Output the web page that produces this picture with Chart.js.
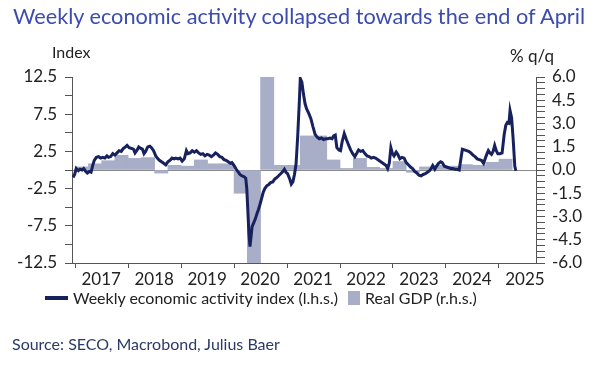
<!DOCTYPE html>
<html lang="en">
<head>
    <meta charset="UTF-8">
    <title>Weekly economic activity</title>
    <script src="https://cdn.jsdelivr.net/npm/chart.js"></script>
    <style>
        body {
            margin: 0;
            padding: 0;
            background: white;
            font-family: Lato, sans-serif;
        }
        .wrap {
            position: relative;
            width: 604px;
            height: 372px;
            overflow: hidden;
        }
        canvas {
            position: absolute;
            left: 0;
            top: 0;
        }
        .title {
            position: absolute;
            left: 13px;
            top: 3px;
            font-size: 21.7px;
            color: #3b4bb0;
            white-space: nowrap;
        }
        .unit {
            position: absolute;
            font-size: 16px;
            color: #222;
        }
        .legend {
            position: absolute;
            top: 288px;
            left: 45px;
            font-size: 16px;
            color: #222;
            display: flex;
            align-items: center;
            white-space: nowrap;
        }
        .legend .line {
            width: 23px;
            height: 4px;
            background: #17215e;
            margin-right: 5px;
        }
        .legend .box {
            width: 12px;
            height: 14px;
            background: #a8aec8;
            margin: 0 5px 0 10px;
        }
        .source {
            position: absolute;
            left: 12px;
            top: 334px;
            font-size: 16px;
            color: #2b3a66;
        }
    </style>
</head>
<body>
<div class="wrap">
    <canvas id="chart" width="604" height="372"></canvas>
    <div class="title">Weekly economic activity collapsed towards the end of April</div>
    <div class="unit" style="left: 52px; top: 42px;">Index</div>
    <div class="unit" style="left: 510px; top: 45px; font-size: 17px;">% q/q</div>
    <div class="legend">
        <span class="line"></span>Weekly economic activity index (l.h.s.)
        <span class="box"></span>Real GDP (r.h.s.)
    </div>
    <div class="source">Source: SECO, Macrobond, Julius Baer</div>
</div>

<script>
    // x axis years (ticks at the start of each year)
    const years = [2017, 2018, 2019, 2020, 2021, 2022, 2023, 2024, 2025];

    // weekly economic activity index (l.h.s.), dates as decimal years
    const activityDates = [
        2016.96, 2016.99, 2017.02, 2017.06, 2017.09, 2017.13, 2017.16, 2017.20, 2017.23, 2017.27,
        2017.30, 2017.33, 2017.36, 2017.40, 2017.44, 2017.48, 2017.52, 2017.56, 2017.60, 2017.63,
        2017.67, 2017.71, 2017.75, 2017.79, 2017.83, 2017.87, 2017.91, 2017.95, 2017.98, 2018.02,
        2018.06, 2018.10, 2018.13, 2018.17, 2018.20, 2018.24, 2018.27, 2018.30, 2018.33, 2018.37,
        2018.41, 2018.44, 2018.48, 2018.52, 2018.55, 2018.59, 2018.63, 2018.67, 2018.71, 2018.75,
        2018.79, 2018.83, 2018.87, 2018.90, 2018.94, 2018.98, 2019.02, 2019.06, 2019.10, 2019.13,
        2019.17, 2019.21, 2019.25, 2019.29, 2019.33, 2019.37, 2019.41, 2019.45, 2019.49, 2019.53,
        2019.57, 2019.61, 2019.65, 2019.69, 2019.73, 2019.77, 2019.81, 2019.85, 2019.89, 2019.93,
        2019.96, 2020.00, 2020.04, 2020.08, 2020.11, 2020.15, 2020.19, 2020.22, 2020.24, 2020.26,
        2020.28, 2020.30, 2020.32, 2020.34, 2020.37, 2020.40, 2020.43, 2020.46, 2020.49, 2020.52,
        2020.55, 2020.58, 2020.62, 2020.65, 2020.69, 2020.73, 2020.77, 2020.81, 2020.85, 2020.88,
        2020.92, 2020.95, 2020.98, 2021.01, 2021.05, 2021.08, 2021.11, 2021.14, 2021.17, 2021.20,
        2021.23, 2021.25, 2021.28, 2021.31, 2021.34, 2021.37, 2021.41, 2021.45, 2021.49, 2021.53,
        2021.57, 2021.61, 2021.65, 2021.69, 2021.73, 2021.77, 2021.81, 2021.85, 2021.88, 2021.91,
        2021.94, 2021.98, 2022.01, 2022.04, 2022.08, 2022.12, 2022.16, 2022.20, 2022.24, 2022.28,
        2022.32, 2022.35, 2022.39, 2022.43, 2022.47, 2022.51, 2022.55, 2022.59, 2022.63, 2022.67,
        2022.71, 2022.75, 2022.79, 2022.83, 2022.87, 2022.90, 2022.93, 2022.96, 2022.99, 2023.02,
        2023.06, 2023.09, 2023.13, 2023.17, 2023.21, 2023.25, 2023.29, 2023.33, 2023.37, 2023.41,
        2023.45, 2023.49, 2023.53, 2023.57, 2023.61, 2023.65, 2023.69, 2023.72, 2023.75, 2023.79,
        2023.83, 2023.86, 2023.90, 2023.93, 2023.97, 2024.01, 2024.05, 2024.09, 2024.13, 2024.17,
        2024.21, 2024.25, 2024.28, 2024.31, 2024.35, 2024.39, 2024.43, 2024.47, 2024.51, 2024.55,
        2024.59, 2024.63, 2024.67, 2024.71, 2024.74, 2024.77, 2024.80, 2024.83, 2024.86, 2024.89,
        2024.92, 2024.95, 2024.98, 2025.02, 2025.06, 2025.10, 2025.13, 2025.16, 2025.19, 2025.21,
        2025.24, 2025.27, 2025.30, 2025.32
    ];
    const activityValues = [
        -1.0, -0.6, 0.2, -0.1, 0.1, 0.0, 0.2, -0.2, -0.4, -0.2,
        -0.3, 0.6, 1.3, 1.7, 1.8, 1.6, 1.7, 1.6, 1.9, 1.7,
        1.8, 2.2, 2.0, 2.3, 2.6, 2.5, 2.9, 3.1, 3.3, 3.0,
        2.9, 2.8, 2.3, 2.7, 3.1, 2.9, 2.8, 2.2, 2.5, 3.1,
        3.2, 3.0, 2.6, 1.9, 1.6, 1.3, 1.1, 0.9, 0.7, 1.1,
        1.3, 1.6, 1.5, 1.6, 1.5, 1.6, 1.2, 1.5, 2.6, 2.2,
        2.3, 2.6, 2.4, 2.6, 2.3, 2.1, 2.2, 1.9, 2.1, 2.0,
        1.8, 2.0, 2.3, 2.1, 1.8, 1.7, 1.4, 1.3, 1.1, 0.9,
        1.0, 0.6, 0.1, -0.3, -0.6, -0.8, -0.9, -1.1, -2.5, -5.5,
        -8.5, -10.3, -9.0, -7.6, -7.1, -6.6, -5.9, -5.3, -4.6, -3.8,
        -3.0, -2.5, -2.1, -2.0, -1.7, -1.6, -1.2, -1.0, -0.7, -0.5,
        -0.2, 0.1, -0.3, -0.5, -1.2, -1.9, -1.6, -0.6, 0.8, 4.4,
        8.9, 12.3, 11.8, 10.2, 8.9, 8.2, 7.6, 6.9, 5.8, 4.8,
        4.4, 4.2, 4.3, 4.1, 4.2, 4.2, 4.3, 4.2, 4.6, 4.7,
        3.0, 2.7, 2.6, 3.8, 4.9, 4.1, 3.4, 2.7, 2.2, 1.8,
        2.3, 2.7, 2.5, 2.6, 2.2, 1.9, 1.8, 1.6, 1.7, 1.6,
        1.4, 1.2, 1.0, 0.8, 0.6, 0.2, 0.9, 3.0, 2.2, 1.9,
        2.4, 2.1, 1.5, 1.7, 1.6, 1.0, 0.7, 0.4, 0.2, -0.2,
        -0.4, -0.7, -0.8, -0.6, -0.5, -0.3, -0.1, 0.2, 0.6, 0.1,
        0.6, 0.9, 1.1, 1.0, 0.5, 0.4, 0.3, 0.2, 0.2, 0.1,
        0.1, 0.0, 1.4, 2.8, 2.7, 2.6, 2.5, 2.3, 2.0, 1.8,
        1.5, 1.4, 1.3, 0.9, 1.5, 2.1, 2.6, 2.3, 2.1, 2.5,
        3.3, 2.6, 2.2, 2.2, 2.3, 4.8, 6.0, 6.4, 6.3, 8.0,
        7.0, 4.0, 0.5, -0.1
    ];

    // real GDP, % q/q (r.h.s.)
    const gdpQuarters = [
        '2017Q1', '2017Q2', '2017Q3', '2017Q4',
        '2018Q1', '2018Q2', '2018Q3', '2018Q4',
        '2019Q1', '2019Q2', '2019Q3', '2019Q4',
        '2020Q1', '2020Q2', '2020Q3', '2020Q4',
        '2021Q1', '2021Q2', '2021Q3', '2021Q4',
        '2022Q1', '2022Q2', '2022Q3', '2022Q4',
        '2023Q1', '2023Q2', '2023Q3', '2023Q4',
        '2024Q1', '2024Q2', '2024Q3', '2024Q4',
        '2025Q1'
    ];
    const gdpValues = [
        0.2, 0.4, 0.6, 0.95,
        0.75, 0.8, -0.2, 0.3,
        0.25, 0.65, 0.4, 0.4,
        -1.5, -7.0, 7.2, 0.3,
        0.3, 2.2, 2.2, 0.65,
        0.1, 0.75, 0.17, 0.1,
        0.55, -0.15, 0.2, 0.3,
        0.25, 0.35, 0.3, 0.5,
        0.7
    ];

    const leftLabels = [12.5, 7.5, 2.5, -2.5, -7.5, -12.5];
    const rightLabels = [6.0, 4.5, 3.0, 1.5, 0.0, -1.5, -3.0, -4.5, -6.0];

    function quarterMid(q) {
        let y = parseInt(q.slice(0, 4));
        let n = parseInt(q.slice(5));
        return y + (n - 0.5) / 4;
    }

    const lineData = activityDates.map((d, i) => ({ x: d, y: activityValues[i] }));
    const gdpData = gdpQuarters.map((q, i) => ({ x: quarterMid(q), y: gdpValues[i] }));

    const axisColor = '#555';
    const tickFont = { family: 'Lato', size: 17 };

    new Chart(document.getElementById('chart'), {
        data: {
            datasets: [
                {
                    type: 'line',
                    label: 'Weekly economic activity index (l.h.s.)',
                    data: lineData,
                    yAxisID: 'y',
                    borderColor: '#17215e',
                    borderWidth: 3,
                    pointRadius: 0,
                    tension: 0,
                    order: 1
                },
                {
                    type: 'bar',
                    label: 'Real GDP (r.h.s.)',
                    data: gdpData,
                    yAxisID: 'y1',
                    backgroundColor: '#a8aec8',
                    borderWidth: 0,
                    barPercentage: 1,
                    categoryPercentage: 1,
                    order: 2
                }
            ]
        },
        options: {
            responsive: false,
            animation: false,
            layout: { padding: { top: 77, left: 0, right: 0, bottom: 83 } },
            plugins: {
                legend: { display: false },
                tooltip: { enabled: false }
            },
            scales: {
                x: {
                    type: 'linear',
                    min: 2016.94,
                    max: 2025.70,
                    offset: false,
                    afterBuildTicks: s => { s.ticks = years.map(v => ({ value: v })); },
                    afterFit: s => { s.height = 26; },
                    border: { color: axisColor, width: 1 },
                    grid: { offset: false, drawOnChartArea: false, tickLength: 5, tickColor: axisColor },
                    ticks: {
                        autoSkip: false,
                        maxRotation: 0,
                        labelOffset: 26,
                        padding: 1,
                        color: '#222',
                        font: tickFont,
                        callback: v => String(v)
                    }
                },
                y: {
                    position: 'left',
                    min: -12.5,
                    max: 12.5,
                    afterFit: s => { s.width = 72; },
                    border: { color: axisColor, width: 1 },
                    grid: {
                        color: c => c.tick && c.tick.value === 0 ? '#8a8a8a' : 'rgba(0,0,0,0)',
                        tickColor: axisColor,
                        tickLength: 7
                    },
                    ticks: {
                        stepSize: 2.5,
                        autoSkip: false,
                        padding: 8,
                        color: '#222',
                        font: tickFont,
                        callback: v => leftLabels.includes(v) ? v.toFixed(1) : ''
                    }
                },
                y1: {
                    position: 'right',
                    min: -6,
                    max: 6,
                    afterFit: s => { s.width = 68; },
                    border: { color: axisColor, width: 1 },
                    grid: { drawOnChartArea: false, tickColor: axisColor, tickLength: 9 },
                    ticks: {
                        stepSize: 0.375,
                        autoSkip: false,
                        padding: 7,
                        color: '#222',
                        font: tickFont,
                        callback: v => rightLabels.includes(v) ? v.toFixed(1) : ''
                    }
                }
            }
        }
    });
</script>
</body>
</html>
